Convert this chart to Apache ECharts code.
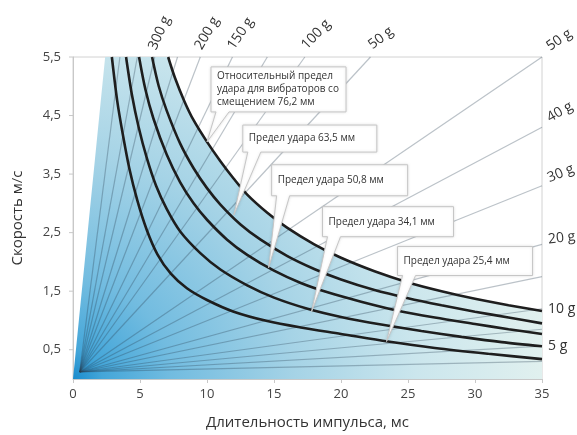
<!DOCTYPE html>
<html><head><meta charset="utf-8">
<script src="https://cdn.jsdelivr.net/npm/echarts@6/dist/echarts.min.js"></script>
<style>html,body{margin:0;padding:0;background:#fff}#c{width:577px;height:435px}</style>
</head><body><div id="c"></div>
<script>
// ---- data ----
const xTicks = [0, 5, 10, 15, 20, 25, 30, 35];
const yTickLabels = [0.5, 1.5, 2.5, 3.5, 4.5, 5.5];

const curve762 = [[7.1,5.5],[7.6,5.15],[8.3,4.75],[9,4.42],[10,4.05],[11,3.72],[12,3.42],[13,3.15],[14.5,2.84],[16,2.58],[18,2.3],[20,2.07],[22.5,1.84],[25,1.65],[27.5,1.5],[30,1.37],[32.5,1.26],[35,1.16]];
const curve635 = [[5.9,5.5],[6.4,5.0],[7,4.58],[8,4.02],[9,3.6],[10,3.26],[11,2.98],[12.5,2.64],[14,2.38],[16,2.1],[18,1.88],[20,1.7],[22.5,1.52],[25,1.38],[27.5,1.26],[30,1.15],[32.5,1.05],[35,0.95]];
const curve508 = [[4.93,5.5],[5.4,4.95],[6,4.45],[7,3.83],[8,3.36],[9,3.0],[10,2.72],[11.5,2.38],[13,2.12],[15,1.85],[17,1.64],[19,1.48],[21.5,1.32],[24,1.18],[27,1.05],[30,0.94],[32.5,0.85],[35,0.77]];
const curve341 = [[3.96,5.5],[4.4,4.85],[4.9,4.3],[5.5,3.78],[6.2,3.3],[7,2.9],[8,2.52],[9.5,2.15],[11,1.87],[13,1.6],[15,1.39],[17.5,1.2],[20,1.06],[23,0.93],[26,0.82],[29,0.72],[32,0.63],[35,0.56]];
const curve254 = [[2.9,5.5],[3.3,4.75],[3.7,4.2],[4.2,3.6],[4.8,3.05],[5.5,2.55],[6.3,2.13],[7.3,1.8],[8.5,1.55],[10,1.35],[12,1.15],[14.5,0.99],[17,0.88],[20,0.77],[23.5,0.64],[27,0.53],[31,0.43],[35,0.34]];

const fanOrigin = [0.5, 0.12];
const fanTopT = [3.5, 4.8, 6.1, 7.8, 9.5, 11.9, 14.5, 17.3, 22.2];
const fanTopLabels = ['', '', '300 g', '', '200 g', '150 g', '', '100 g', '50 g'];
const fanRightV = [5.5, 4.3, 3.3, 2.3, 1.75, 1.2, 0.85, 0.56, 0.3];
const fanRightLabels = ['50 g', '40 g', '30 g', '20 g', '', '10 g', '', '5 g', ''];
const fillEdgeTop = [2.4, 5.5];

const annoTexts = [
  ['Относительный предел', 'удара для вибраторов со', 'смещением 76,2 мм'],
  ['Предел удара 63,5 мм'],
  ['Предел удара 50,8 мм'],
  ['Предел удара 34,1 мм'],
  ['Предел удара 25,4 мм']
];
const annoTips = [[10, 4.05], [12, 2.8], [14.6, 1.9], [17.8, 1.15], [23.4, 0.64]];

// ---- styles / layout ----
const FONT = '"Open Sans", "DejaVu Sans", sans-serif';
const topRot = [0, 0, 66, 0, 60, 56, 0, 46, 38];
const rightRot = [35, 30, 22, 6, 0, 0, 0, 0, 0];
const annoBoxes = [[4,-75,139,-30],[9,-90,143,-63],[3,-103,139,-72],[11,-105,142,-75],[11,-95,146,-66]];

const chart = echarts.init(document.getElementById('c'), null, {renderer: 'canvas'});

const fillPoly = [[0,0], fillEdgeTop].concat(curve762).concat([[35,0]]);
const fanEnds = fanTopT.map(t => [t, 5.5]).concat(fanRightV.map(v => [35, v]));

const curveSeries = [curve762, curve635, curve508, curve341, curve254].map(d => ({
  type: 'line', data: d, smooth: 0.3, showSymbol: false, silent: true,
  lineStyle: {color: '#1e1e1e', width: 2.6}, z: 5
}));

chart.setOption({
  animation: false,
  grid: {left: 73, right: 35, top: 57, bottom: 54, show: true, borderColor: '#d2d2d2', borderWidth: 1},
  xAxis: {
    type: 'value', min: 0, max: 35, interval: 5,
    axisLine: {lineStyle: {color: '#c8c8c8'}},
    axisTick: {length: 4, lineStyle: {color: '#c8c8c8'}},
    splitLine: {show: false},
    axisLabel: {color: '#444', fontSize: 13, fontFamily: FONT, margin: 9,
      formatter: v => xTicks.includes(v) ? String(v) : ''},
    name: 'Длительность импульса, мс', nameLocation: 'middle', nameGap: 36,
    nameTextStyle: {color: '#333', fontSize: 15, fontFamily: FONT}
  },
  yAxis: {
    type: 'value', min: 0, max: 5.5, interval: 0.5,
    axisLine: {show: true, lineStyle: {color: '#c8c8c8'}},
    axisTick: {show: false},
    splitLine: {show: false},
    axisLabel: {color: '#444', fontSize: 13, fontFamily: FONT, margin: 12,
      formatter: v => yTickLabels.some(t => Math.abs(t - v) < 1e-6) ? v.toFixed(1).replace('.', ',') : ''},
    name: 'Скорость м/с', nameLocation: 'middle', nameGap: 48,
    nameTextStyle: {color: '#333', fontSize: 15, fontFamily: FONT}
  },
  series: [
    {
      type: 'custom', silent: true, z: 1, data: [[0, 0]],
      renderItem: (params, api) => {
        const pts = fillPoly.map(p => api.coord(p));
        const o = api.coord([0, 0]);
        return {type: 'polygon', shape: {points: pts}, style: {fill: {
          type: 'radial', x: o[0], y: o[1], r: 490, global: true,
          colorStops: [
            {offset: 0, color: '#1b8ccd'}, {offset: 0.06, color: '#44a6d9'},
            {offset: 0.2, color: '#72bce0'}, {offset: 0.45, color: '#a5d3e6'},
            {offset: 0.7, color: '#cbe6ed'}, {offset: 1, color: '#e4f2ef'}]
        }}};
      }
    },
    {
      type: 'custom', silent: true, z: 2, data: fanEnds,
      renderItem: (params, api) => {
        const a = api.coord(fanOrigin);
        const b = api.coord([api.value(0), api.value(1)]);
        return {type: 'line', shape: {x1: a[0], y1: a[1], x2: b[0], y2: b[1]},
          style: {stroke: 'rgba(45,65,85,0.32)', lineWidth: 1.2}};
      }
    }
  ].concat(curveSeries)
});

// ---- overlay graphics positioned through the axes ----
const P = p => chart.convertToPixel({gridIndex: 0}, p);
const g = [];
const deg = d => d * Math.PI / 180;

yTickLabels.forEach(v => {
  const p = P([0, v]);
  g.push({type: 'line', shape: {x1: p[0] - 4, y1: p[1], x2: p[0], y2: p[1]}, style: {stroke: '#c8c8c8', lineWidth: 1}, silent: true});
});

fanTopT.forEach((t, i) => {
  if (!fanTopLabels[i]) return;
  const p = P([t, 5.5]);
  g.push({type: 'text', x: p[0] + 4, y: p[1] - 5, rotation: deg(topRot[i]), silent: true, z: 20,
    style: {text: fanTopLabels[i], font: '14px ' + FONT, fill: '#333', align: 'left', verticalAlign: 'bottom'}});
});
fanRightV.forEach((v, i) => {
  if (!fanRightLabels[i]) return;
  const p = P([35, v]);
  const r = rightRot[i];
  g.push({type: 'text', x: p[0] + 6, y: p[1] - (r > 0 ? 4 + r * 0.15 : 0), rotation: deg(r), silent: true, z: 20,
    style: {text: fanRightLabels[i], font: '14px ' + FONT, fill: '#333', align: 'left', verticalAlign: 'middle'}});
});

annoTips.forEach((tp, i) => {
  const p = P(tp);
  const b = annoBoxes[i];
  const x0 = p[0] + b[0], y0 = p[1] + b[1], x1 = p[0] + b[2], y1 = p[1] + b[3];
  const pts = [[x0, y0], [x1, y0], [x1, y1], [x0 + 18, y1], [p[0], p[1]], [x0 + 5, y1], [x0, y1]];
  g.push({type: 'polygon', shape: {points: pts}, silent: true, z: 30,
    style: {fill: '#fff', stroke: '#c6c6c6', lineWidth: 1, shadowBlur: 3, shadowColor: 'rgba(0,0,0,0.12)'}});
  const lines = annoTexts[i];
  const h = y1 - y0;
  lines.forEach((s, k) => {
    const ty = lines.length === 1 ? y0 + h / 2 : y0 + 9 + k * 13;
    g.push({type: 'text', x: x0 + 6, y: ty, silent: true, z: 31,
      style: {text: s, font: '10px ' + FONT, fill: '#333', align: 'left', verticalAlign: 'middle'}});
  });
});

chart.setOption({graphic: g});
</script>
</body></html>
